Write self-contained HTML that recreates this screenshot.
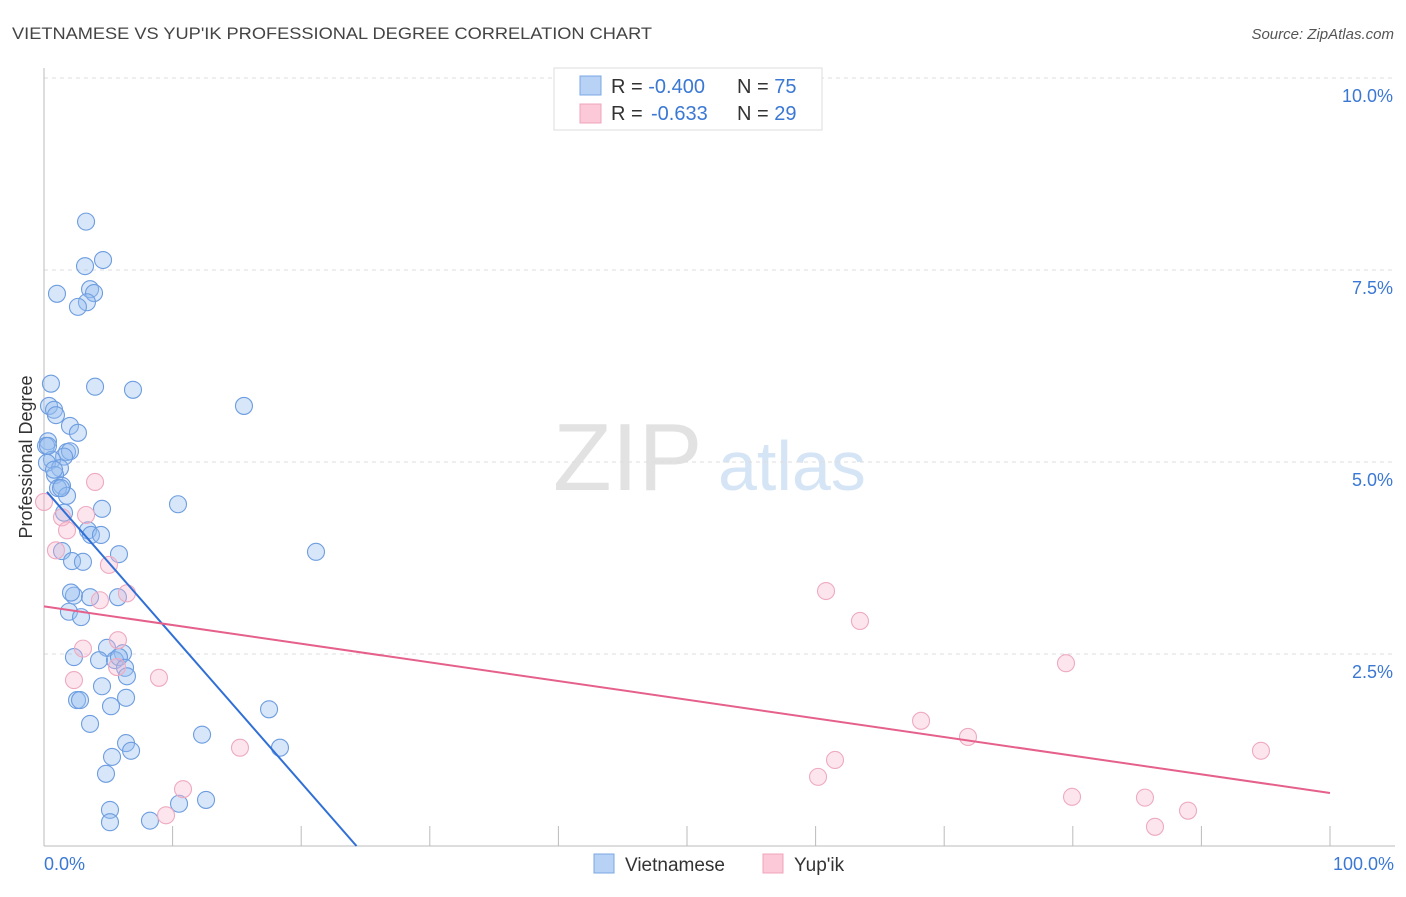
<!DOCTYPE html>
<html><head><meta charset="utf-8"><style>
body{margin:0;background:#fff;font-family:"Liberation Sans",sans-serif}
svg text{font-family:"Liberation Sans",sans-serif}
</style></head><body>
<svg id="chart" width="1406" height="892" xmlns="http://www.w3.org/2000/svg">
<text x="12" y="39" font-size="17" fill="#444" textLength="640" lengthAdjust="spacingAndGlyphs">VIETNAMESE VS YUP'IK PROFESSIONAL DEGREE CORRELATION CHART</text>
<text x="1394" y="39" font-size="15" fill="#555" font-style="italic" text-anchor="end">Source: ZipAtlas.com</text>
<g><text x="553" y="490" font-size="96" fill="#e2e2e2" font-family="Liberation Serif">ZIP</text><text x="718" y="490" font-size="70" fill="#d6e5f5">atlas</text></g>
<g id="grid"></g>
<g id="axes"></g>
<g id="pts"></g>
<g id="trend"></g>
<g>
<rect x="554" y="68" width="268" height="62" fill="#fff" stroke="#ddd"/>
<rect x="580" y="76" width="21" height="19" fill="#b8d2f5" stroke="#7aa7e4"/>
<rect x="580" y="104" width="21" height="19" fill="#fcc9d8" stroke="#f0a4bb"/>
<text x="611" y="93" font-size="20" fill="#333">R = <tspan fill="#3a78d4">-0.400</tspan><tspan x="737">N = </tspan><tspan fill="#3a78d4">75</tspan></text>
<text x="611" y="120" font-size="20" fill="#333">R = <tspan fill="#3a78d4" x="651">-0.633</tspan><tspan x="737">N = </tspan><tspan fill="#3a78d4">29</tspan></text>
</g>
<g>
<rect x="594" y="854" width="20" height="19" fill="#b8d2f5" stroke="#7aa7e4"/>
<text x="625" y="871" font-size="19" fill="#333">Vietnamese</text>
<rect x="763" y="854" width="20" height="19" fill="#fcc9d8" stroke="#f0a4bb"/>
<text x="794" y="871" font-size="19" fill="#333">Yup'ik</text>
</g>
<text x="44" y="870" font-size="18" fill="#3a78d4">0.0%</text>
<text x="1394" y="870" font-size="18" fill="#3a78d4" text-anchor="end">100.0%</text>
<text transform="translate(32,457) rotate(-90)" font-size="18" fill="#333" text-anchor="middle">Professional Degree</text>
</svg>
<script>
const blueX=[3.27,4.59,3.19,1.01,3.58,3.89,3.34,2.64,0.54,3.97,6.92,15.55,0.39,0.78,0.93,2.02,2.64,0.31,0.16,1.79,2.02,1.56,0.62,0.23,1.24,0.86,1.40,1.09,1.79,1.56,4.51,10.42,3.42,3.65,4.43,5.83,21.15,1.40,2.18,3.03,2.33,3.58,1.94,2.88,5.75,4.90,6.14,2.33,4.28,5.52,5.83,6.30,6.45,4.51,5.21,6.38,2.57,2.80,3.58,12.29,17.50,6.38,5.29,6.77,18.35,4.82,5.13,5.13,8.24,10.50,12.60,0.78,1.32,0.31,2.10];
const blueY=[8.13,7.63,7.55,7.19,7.25,7.20,7.08,7.02,6.02,5.98,5.94,5.73,5.73,5.68,5.61,5.47,5.38,5.27,5.21,5.13,5.14,5.07,5.03,4.99,4.92,4.83,4.69,4.66,4.56,4.34,4.39,4.45,4.11,4.05,4.05,3.80,3.83,3.84,3.71,3.70,3.26,3.24,3.05,2.98,3.24,2.58,2.51,2.46,2.42,2.42,2.46,2.32,2.21,2.08,1.82,1.93,1.90,1.90,1.59,1.45,1.78,1.34,1.16,1.24,1.28,0.94,0.47,0.31,0.33,0.55,0.60,4.90,4.66,5.21,3.30];
const pinkX=[3.97,0.0,1.40,1.79,3.27,0.93,5.05,4.35,6.45,3.03,5.75,5.68,2.33,8.94,15.24,10.81,9.49,60.81,63.45,79.47,68.20,71.85,61.51,60.19,79.94,85.61,86.39,88.96,94.63];
const pinkY=[4.74,4.48,4.28,4.11,4.31,3.85,3.66,3.20,3.29,2.57,2.68,2.33,2.16,2.19,1.28,0.74,0.40,3.32,2.93,2.38,1.63,1.42,1.12,0.90,0.64,0.63,0.25,0.46,1.24];
const blueTrend=[[0.23,4.61],[24.3,0]];
const pinkTrend=[[0,3.12],[100,0.69]];
const yTicks=[2.5,5.0,7.5,10.0];
const yTickLabels=["2.5%","5.0%","7.5%","10.0%"];
const xTicks=[10,20,30,40,50,60,70,80,90,100];
const NS="http://www.w3.org/2000/svg";
const sx=v=>44+v*12.86, sy=v=>846-v*76.8;
function mk(tag,attrs,parent){const e=document.createElementNS(NS,tag);for(const k in attrs)e.setAttribute(k,attrs[k]);parent.appendChild(e);return e;}
const grid=document.getElementById('grid'),axes=document.getElementById('axes'),pts=document.getElementById('pts'),trend=document.getElementById('trend');
yTicks.forEach((t,i)=>{
 const l=mk('line',{x1:44,x2:1395,y1:sy(t),y2:sy(t),stroke:'#ddd','stroke-dasharray':'4,4'},grid);
 
 
 const tx=mk('text',{x:1393,y:sy(t)+24,'font-size':18,fill:'#3a78d4','text-anchor':'end'},axes);
 tx.textContent=yTickLabels[i];
 
 
});
const al=mk('line',{x1:44,x2:44,y1:68,y2:846,stroke:'#bbb'},axes);


const bl=mk('line',{x1:44,x2:1395,y1:846,y2:846,stroke:'#bbb'},axes);


xTicks.forEach(t=>{
 const l=mk('line',{x1:sx(t),x2:sx(t),y1:826,y2:846,stroke:'#bbb'},axes);
 
 
});
blueX.forEach((x,i)=>{
 const c=mk('circle',{cx:sx(x),cy:sy(blueY[i]),r:8.5,fill:'rgba(150,190,240,0.38)',stroke:'#6d9de0','stroke-width':1.1},pts);
 
 
});
pinkX.forEach((x,i)=>{
 const c=mk('circle',{cx:sx(x),cy:sy(pinkY[i]),r:8.5,fill:'rgba(248,180,202,0.35)',stroke:'#eeaac0','stroke-width':1.1},pts);
 
 
});
const bt=mk('line',{x1:sx(blueTrend[0][0]),y1:sy(blueTrend[0][1]),x2:sx(blueTrend[1][0]),y2:sy(blueTrend[1][1]),stroke:'#2f6fd6','stroke-width':2},trend);


const pt=mk('line',{x1:sx(pinkTrend[0][0]),y1:sy(pinkTrend[0][1]),x2:sx(pinkTrend[1][0]),y2:sy(pinkTrend[1][1]),stroke:'#e5608b','stroke-width':2},trend);


</script>
</body></html>
